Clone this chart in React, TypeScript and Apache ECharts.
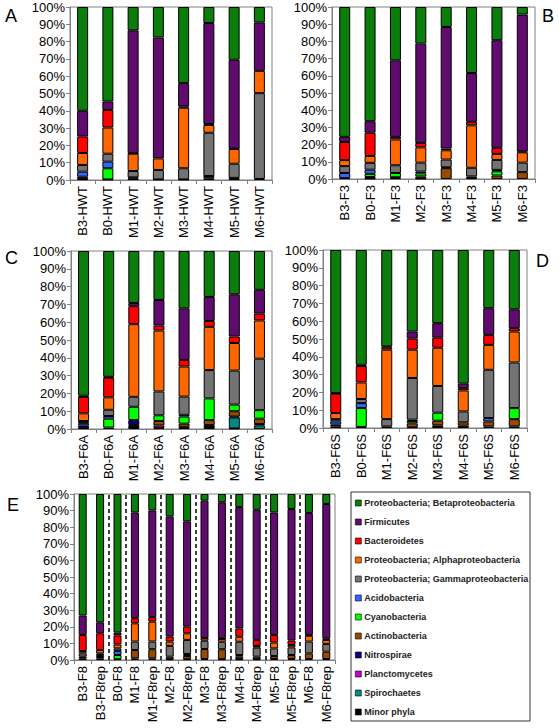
import React, { useEffect, useRef } from "react";
import * as echarts from "echarts";

// Taxa in stacking order (bottom -> top)
const taxa = [
  "Minor phyla",
  "Spirochaetes",
  "Planctomycetes",
  "Nitrospirae",
  "Actinobacteria",
  "Cyanobacteria",
  "Acidobacteria",
  "Proteobacteria; Gammaproteobacteria",
  "Proteobacteria; Alphaproteobacteria",
  "Bacteroidetes",
  "Firmicutes",
  "Proteobacteria; Betaproteobacteria",
];
const taxaColors = [
  "#000000", "#008a8a", "#cc00cc", "#000080", "#964b00", "#00ff00",
  "#3366ff", "#737373", "#ff6600", "#ff0000", "#600c6e", "#0a7d0a",
];

const catsA = ["B3-HWT", "B0-HWT", "M1-HWT", "M2-HWT", "M3-HWT", "M4-HWT", "M5-HWT", "M6-HWT"];
const catsB = ["B3-F3", "B0-F3", "M1-F3", "M2-F3", "M3-F3", "M4-F3", "M5-F3", "M6-F3"];
const catsC = ["B3-F6A", "B0-F6A", "M1-F6A", "M2-F6A", "M3-F6A", "M4-F6A", "M5-F6A", "M6-F6A"];
const catsD = ["B3-F6S", "B0-F6S", "M1-F6S", "M2-F6S", "M3-F6S", "M4-F6S", "M5-F6S", "M6-F6S"];
const catsE = ["B3-F8", "B3-F8rep", "B0-F8", "M1-F8", "M1-F8rep", "M2-F8", "M2-F8rep", "M3-F8", "M3-F8rep", "M4-F8", "M4-F8rep", "M5-F8", "M5-F8rep", "M6-F8", "M6-F8rep"];

// One row per sample, values (%) in the taxa order above
const valuesA = [
  [0.5, 0, 0, 1.4, 0, 0, 2.9, 3.9, 6.9, 9.6, 14.8, 60],
  [0.3, 0, 0, 0, 0, 6.5, 3.8, 4.6, 15.1, 10.2, 4.9, 54.6],
  [1.0, 0, 0, 0, 0.5, 0, 0, 3.7, 10, 0.3, 71, 13.5],
  [0.3, 0, 0, 0, 0, 0, 0, 5.5, 6.7, 0, 69.9, 17.6],
  [0.3, 0, 0, 0, 0, 0, 0, 6.5, 35, 0.7, 13.5, 44],
  [1, 0, 0, 0, 1.3, 0, 0, 25, 4.5, 0.6, 58.3, 9.3],
  [0, 0, 0, 0, 1.2, 0, 0, 8.2, 8.5, 0.3, 51.3, 30.5],
  [0.6, 0, 0, 0, 0, 0, 0, 49.6, 12.9, 0, 28, 8.9],
];
const valuesB = [
  [0.5, 0, 0, 0, 0, 0, 3, 4, 3.5, 10.5, 3, 75.5],
  [0.3, 0, 0, 0, 0.9, 1.8, 2.4, 4, 4, 13.5, 6.7, 66.4],
  [0.5, 0, 0, 0, 0.5, 2.5, 0, 4.5, 15, 1.5, 44.5, 31],
  [0.3, 0, 0, 0, 1.2, 1.8, 1, 5.2, 8.9, 2.6, 57.7, 21.3],
  [0, 0, 0, 0, 6.3, 0.5, 0, 4.5, 5.4, 1, 70.7, 11.6],
  [0.5, 0, 0, 0, 1, 0, 0, 5, 24.7, 2, 28.4, 38.4],
  [0, 0, 0, 0, 2, 2.5, 0.8, 5.8, 3.5, 3.5, 62.6, 19.3],
  [0, 0, 0, 0, 4, 0, 0, 5.5, 6, 0.5, 79.6, 4.4],
];
const valuesC = [
  [0.5, 0, 0, 1.5, 0, 0, 1.3, 1.2, 4.3, 9.2, 0.7, 81.3],
  [0.8, 0, 0, 0, 0, 5, 1.5, 3.5, 7, 11, 0.5, 70.7],
  [2.2, 0, 0, 2.8, 0, 7.5, 0, 5.6, 40.8, 10.1, 1.8, 29.2],
  [0.5, 0, 1.5, 0, 2.5, 3.2, 0, 13.4, 34.2, 2.8, 14.4, 27.5],
  [1.2, 0, 0, 0, 1.8, 4, 1, 10.2, 16.9, 3.7, 29, 32.2],
  [2.2, 0, 0, 0, 2.8, 12.2, 0, 15.9, 24.3, 3.3, 13.5, 25.8],
  [0.3, 6.2, 0, 0.5, 3, 3.7, 0, 19.1, 15.5, 3.7, 23.7, 24.3],
  [0, 2, 0, 0.8, 3, 4.8, 0, 28.9, 21.5, 3.8, 13.4, 21.8],
];
const valuesD = [
  [0.9, 0, 0, 1, 0, 0, 1.8, 1.3, 3.4, 10.9, 0.3, 80.4],
  [0.6, 0, 0, 0, 0, 10.6, 2.8, 2.3, 9.3, 9.2, 0.7, 64.5],
  [0.9, 0, 0, 0, 0, 0, 0, 4.1, 39, 1.3, 0.5, 54.2],
  [0.4, 0, 0, 0, 2.2, 1.3, 0.8, 23.4, 15.9, 6.2, 4, 45.8],
  [1.5, 0, 0, 0, 2.6, 4.5, 0, 15, 21.5, 5.6, 8.2, 41.1],
  [1.3, 0, 0, 0, 1.9, 0, 0, 6.1, 11.8, 1.3, 2.5, 75.1],
  [0.9, 0, 0, 0, 2.8, 0, 1.9, 27.1, 14, 5.6, 15, 32.7],
  [0.9, 0, 0, 0, 4.1, 6.2, 0, 25.6, 17.4, 1.9, 10.6, 33.3],
];
const valuesE = [
  [1, 0, 0, 1, 0, 0, 0, 2, 1.4, 9.7, 11.7, 73.2],
  [0.8, 0, 0, 1, 0, 0, 1.2, 1, 2, 10.1, 6.6, 77.3],
  [0.5, 0, 0, 0, 0, 2.5, 2.5, 1.5, 2.3, 5.5, 1.7, 83.5],
  [1, 0, 0, 0, 5, 0, 0, 5.1, 11, 3.1, 63.7, 11.1],
  [1, 0, 0, 0, 5.5, 0, 0, 4.6, 12, 2.7, 64.3, 9.9],
  [0.5, 0, 0, 0, 1.5, 0, 0, 6.5, 2.6, 3, 72.4, 13.5],
  [0.5, 0, 0, 0, 1.9, 1.2, 0, 8.5, 4, 4, 63.4, 16.5],
  [0.6, 0, 0, 0, 6, 0, 0, 5, 1.5, 0.3, 82.6, 4],
  [0.5, 0, 0, 0, 6, 0, 0, 4.5, 1.7, 0.4, 81.9, 5],
  [0.5, 0, 0, 0, 1.5, 0, 1, 8, 3, 5, 73.1, 7.9],
  [0.5, 0, 0, 0, 1.5, 0, 0, 5.4, 1.1, 3.6, 78.4, 9.5],
  [0.6, 0, 0, 0, 1.8, 0, 0, 4.6, 3.5, 4.6, 73.8, 11.1],
  [0.6, 0, 0, 0, 2.4, 0, 0, 4.6, 1.5, 2.6, 79.2, 9.1],
  [0.6, 0, 0, 0, 3.4, 0, 0, 7.1, 3.5, 0.5, 73.4, 11.5],
  [0.6, 0, 0, 0, 4.4, 0, 0, 4.7, 2.4, 1, 80.9, 6],
];
// category boundaries in panel E where dashed separators are drawn
const groupBreaksE = [2, 3, 5, 7, 9, 11, 13];
const yTicks = [0, 10, 20, 30, 40, 50, 60, 70, 80, 90, 100];

const FONT = "'Liberation Sans', Arial, sans-serif";

export default function App() {
  const ref = useRef<HTMLDivElement>(null);
  useEffect(() => {
    if (!ref.current) return;
    const chart = echarts.init(ref.current, null, { renderer: "svg" });
    const panels = [
      { cats: catsA, vals: valuesA, grid: { left: 70, top: 7, width: 202, height: 173 }, bw: 11 },
      { cats: catsB, vals: valuesB, grid: { left: 332, top: 7, width: 203, height: 172 }, bw: 11 },
      { cats: catsC, vals: valuesC, grid: { left: 71, top: 251, width: 201, height: 178 }, bw: 11 },
      { cats: catsD, vals: valuesD, grid: { left: 323, top: 250, width: 204, height: 178 }, bw: 11 },
      { cats: catsE, vals: valuesE, grid: { left: 74, top: 494, width: 261, height: 166 }, bw: 8 },
    ];
    const axisColor = "#808080";
    const grids = panels.map((p) => ({
      ...p.grid,
      show: true,
      borderColor: axisColor,
      borderWidth: 1,
      containLabel: false,
    }));
    const xAxes: any[] = panels.map((p, i) => ({
      type: "category",
      gridIndex: i,
      data: p.cats,
      axisLine: { lineStyle: { color: axisColor, width: 1 } },
      axisTick: { show: true, length: 4, lineStyle: { color: axisColor } },
      axisLabel: { rotate: 90, interval: 0, fontSize: 13, color: "#000", fontFamily: FONT, margin: 6 },
    }));
    xAxes.push({ type: "value", gridIndex: 4, min: 0, max: catsE.length, show: false });
    const yAxes = panels.map((p, i) => ({
      type: "value",
      gridIndex: i,
      min: yTicks[0],
      max: yTicks[yTicks.length - 1],
      interval: 10,
      splitLine: { show: false },
      axisLine: { show: true, lineStyle: { color: axisColor, width: 1 } },
      axisTick: { show: true, length: 4, lineStyle: { color: axisColor } },
      axisLabel: { formatter: "{value}%", fontSize: 13, color: "#000", fontFamily: FONT, margin: 5 },
    }));
    const series: any[] = [];
    panels.forEach((p, pi) => {
      taxa.forEach((t, ti) => {
        series.push({
          type: "bar",
          name: t,
          xAxisIndex: pi,
          yAxisIndex: pi,
          stack: "s" + pi,
          barWidth: p.bw,
          data: p.vals.map((r) => (r[ti] > 0 ? r[ti] : "-")),
          itemStyle: { color: taxaColors[ti], borderColor: "#000", borderWidth: 1 },
        });
      });
    });
    series.push({
      type: "line",
      name: "sep",
      xAxisIndex: 5,
      yAxisIndex: 4,
      data: [],
      markLine: {
        silent: true,
        symbol: ["none", "none"],
        label: { show: false },
        lineStyle: { color: "#000", type: [4, 3], width: 1.5 },
        data: groupBreaksE.map((v) => ({ xAxis: v })),
      },
    });
    const letters = [
      { t: "A", x: 5, y: 7 },
      { t: "B", x: 542, y: 7 },
      { t: "C", x: 5, y: 249 },
      { t: "D", x: 536, y: 252 },
      { t: "E", x: 7, y: 496 },
    ];
    chart.setOption({
      animation: false,
      grid: grids,
      xAxis: xAxes,
      yAxis: yAxes,
      series,
      legend: {
        data: taxa.slice().reverse(),
        orient: "vertical",
        left: 355,
        top: 498,
        padding: 0,
        itemWidth: 6,
        itemHeight: 6,
        itemGap: 9,
        icon: "rect",
        selectedMode: false,
        itemStyle: { borderColor: "#000", borderWidth: 0.6 },
        textStyle: { fontSize: 9, fontWeight: "bold", color: "#222", fontFamily: FONT, lineHeight: 10, padding: [0, 0, 0, -2] },
      },
      graphic: [
        {
          type: "rect",
          shape: { x: 351, y: 492, width: 179, height: 229 },
          style: { fill: "none", stroke: "#333", lineWidth: 1 },
        },
        ...letters.map((l) => ({
          type: "text",
          x: l.x,
          y: l.y,
          style: { text: l.t, fontSize: 18, fontFamily: FONT, fill: "#000" },
        })),
      ],
    });
    return () => chart.dispose();
  }, []);
  return <div ref={ref} style={{ position: "absolute", left: 0, top: 0, width: 559, height: 728 }} />;
}
